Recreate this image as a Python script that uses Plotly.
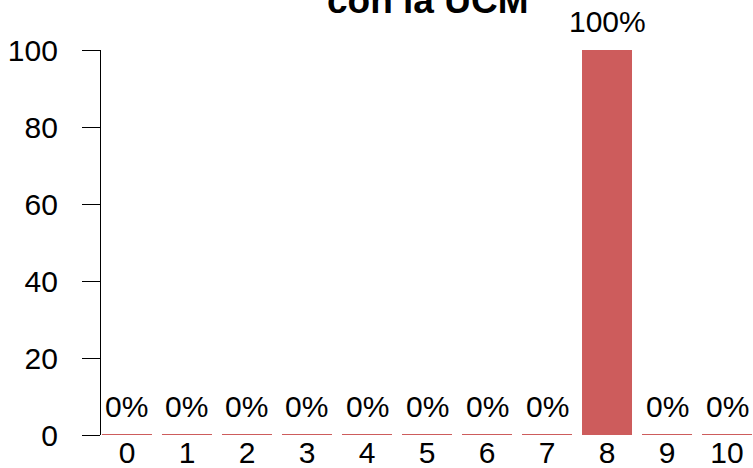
import plotly.graph_objects as go

categories = [0, 1, 2, 3, 4, 5, 6, 7, 8, 9, 10]
values = [0, 0, 0, 0, 0, 0, 0, 0, 100, 0, 0]
labels = ["0%", "0%", "0%", "0%", "0%", "0%", "0%", "0%", "100%", "0%", "0%"]
y_ticks = [0, 20, 40, 60, 80, 100]
title_text = "con la UCM"

RED = "#CD5C5C"
FONT = "Liberation Sans, Arial, sans-serif"
BAR_W = 1 / 1.2
FS = 30

fig = go.Figure()
fig.add_trace(go.Bar(
    x=categories, y=values, width=BAR_W,
    marker=dict(color=RED, line=dict(width=0)),
    hoverinfo="skip",
))

shapes = []
for c, v in zip(categories, values):
    shapes.append(dict(type="line", xref="x", yref="y",
                       x0=c - BAR_W / 2, x1=c + BAR_W / 2, y0=v, y1=v,
                       line=dict(color=RED, width=2), layer="above"))

annotations = []
for c, v, t in zip(categories, values, labels):
    annotations.append(dict(x=c, y=v, xref="x", yref="y", text=t,
                            showarrow=False, yanchor="middle", yshift=29,
                            font=dict(size=FS, color="black", family=FONT)))
annotations.append(dict(x=0.5, y=1, xref="paper", yref="paper", text="<b>" + title_text + "</b>",
                        showarrow=False, yanchor="bottom", yshift=27,
                        font=dict(size=37, color="black", family=FONT)))

fig.update_layout(
    width=753, height=468,
    margin=dict(l=101, r=0, t=50, b=33, autoexpand=False),
    paper_bgcolor="white", plot_bgcolor="white",
    showlegend=False,
    shapes=shapes, annotations=annotations,
    font=dict(family=FONT, size=FS, color="black"),
    xaxis=dict(range=[-0.433, 10.433], tickvals=categories, ticktext=[str(c) for c in categories],
               showline=False, showgrid=False, zeroline=False, ticks="", automargin=False,
               tickfont=dict(size=FS), ticklabelstandoff=-3),
    yaxis=dict(range=[0, 100], tickvals=y_ticks, showline=True, linecolor="black", linewidth=1.3,
               ticks="outside", ticklen=18, tickwidth=1.3, tickcolor="black", automargin=False,
               showgrid=False, zeroline=False, tickfont=dict(size=FS), ticklabelstandoff=18),
)

fig.write_html("out.html", config={"displayModeBar": False},
               post_script="document.body.style.margin='0';document.body.style.overflow='hidden';")
